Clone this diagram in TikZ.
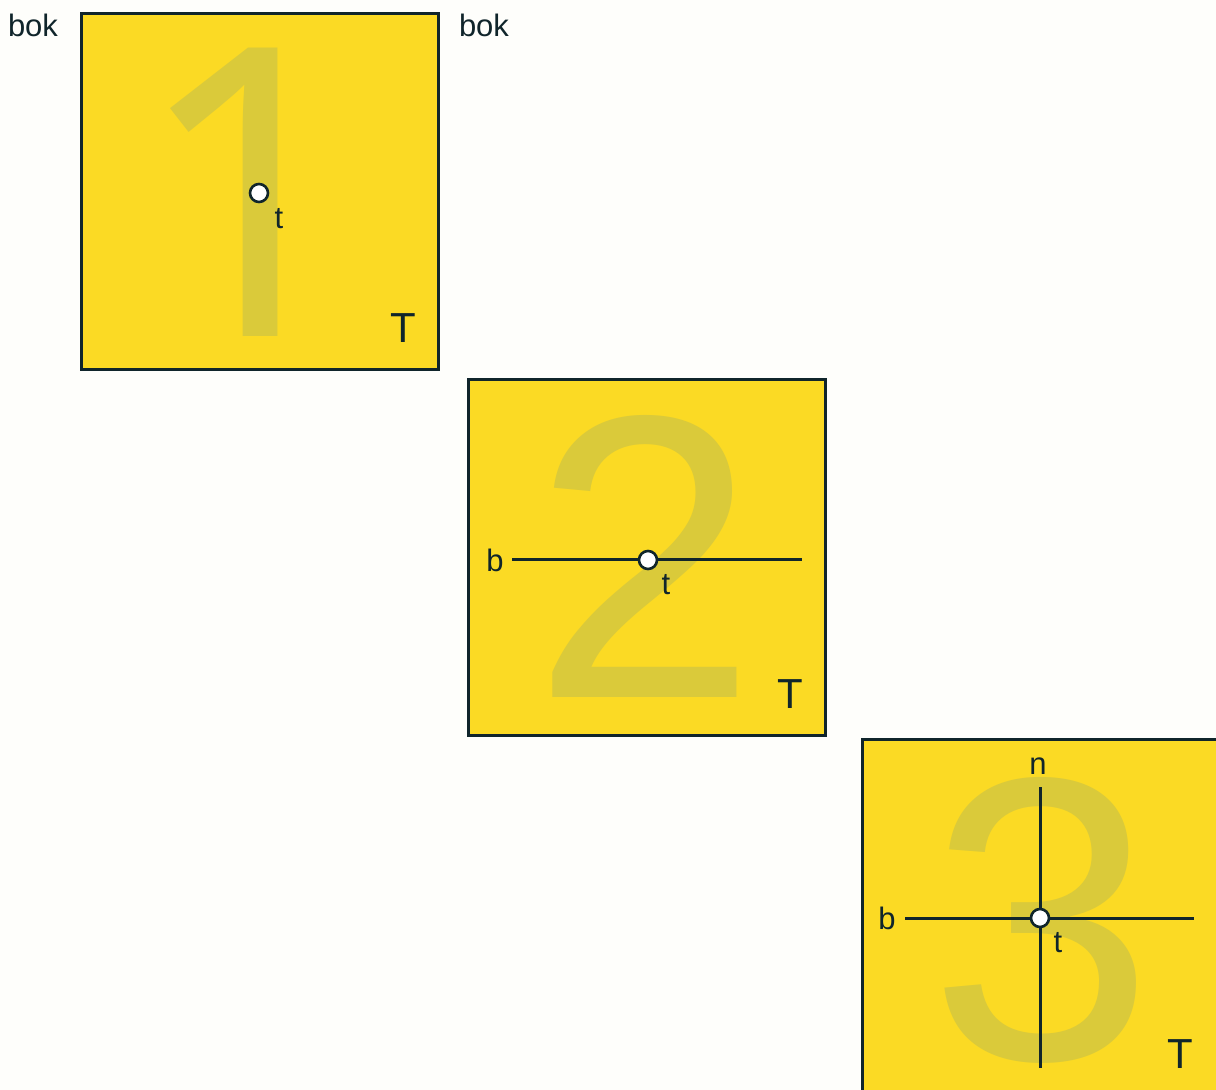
\documentclass[tikz,border=0pt]{standalone}
\usepackage{fontspec}
\setmainfont{Liberation Sans}
\newfontfamily\onefont{Noto Sans}
\usepackage{xcolor}
\definecolor{panelyellow}{HTML}{FBDA24}
\definecolor{digityellow}{HTML}{DACA3A}
\definecolor{inkdark}{HTML}{10252B}
\definecolor{paper}{HTML}{FEFEFB}

\begin{document}
\begin{tikzpicture}[x=0.5pt, y=-0.5pt,
    panel/.style={draw=inkdark, line width=1.5pt, fill=panelyellow},
    bigdigit/.style={text=digityellow, inner sep=0pt, font=\fontsize{202}{202}\selectfont},
    tpoint/.style={circle, draw=inkdark, fill=white, line width=1.3pt, minimum size=9pt, inner sep=0pt},
    lbl/.style={text=inkdark, inner sep=0pt, font=\fontsize{15.5}{15.5}\selectfont},
    corner/.style={text=inkdark, inner sep=0pt, font=\fontsize{21}{21}\selectfont},
    axis/.style={draw=inkdark, line width=1.5pt}]
  %--- Page
  \useasboundingbox (0,0) rectangle (1216,1090);
  \fill[paper] (0,0) rectangle (1216,1090);
  \clip (0,0) rectangle (1216,1090);
  %--- Side labels
  \node[lbl] (bokL) at (33,25) {bok};
  \node[lbl] (bokR) at (484,25) {bok};
  %--- Panel 1: point only
  \begin{scope}[shift={(81,14)}]
    \draw[panel] (0,0) rectangle (357,356);
    \node[bigdigit, font=\onefont\fontsize{202}{202}\selectfont] (d1) at (169,178) {1};
    \node[tpoint] (p1) at (178,179) {};
    \node[lbl] (t1) at (198,205) {t};
    \node[corner] (T1) at (322,314) {T};
  \end{scope}
  %--- Panel 2: point on line b
  \begin{scope}[shift={(468,380)}]
    \draw[panel] (0,0) rectangle (357,356);
    \node[bigdigit] (d2) at (177,176) {2};
    \coordinate (bw2) at (44,180);
    \coordinate (be2) at (334,180);
    \draw[axis] (bw2) -- (be2);
    \node[tpoint] (p2) at (180,180) {};
    \node[lbl] (b2) at (27,180) {b};
    \node[lbl] (t2) at (198,205) {t};
    \node[corner] (T2) at (322,314) {T};
  \end{scope}
  %--- Panel 3: point on lines b and n
  \begin{scope}[shift={(862,740)}]
    \draw[panel] (0,0) rectangle (357,356);
    \node[bigdigit] (d3) at (180,180) {3};
    \coordinate (bw3) at (43,178);
    \coordinate (be3) at (332,178);
    \coordinate (nn3) at (178,47);
    \coordinate (ns3) at (178,328);
    \draw[axis] (bw3) -- (be3);
    \draw[axis] (nn3) -- (ns3);
    \node[tpoint] (p3) at (178,178) {};
    \node[lbl] (b3) at (25,178) {b};
    \node[lbl] (n3) at (176,26) {n};
    \node[lbl] (t3) at (196,203) {t};
    \node[corner] (T3) at (318,314) {T};
  \end{scope}
\end{tikzpicture}
\end{document}
